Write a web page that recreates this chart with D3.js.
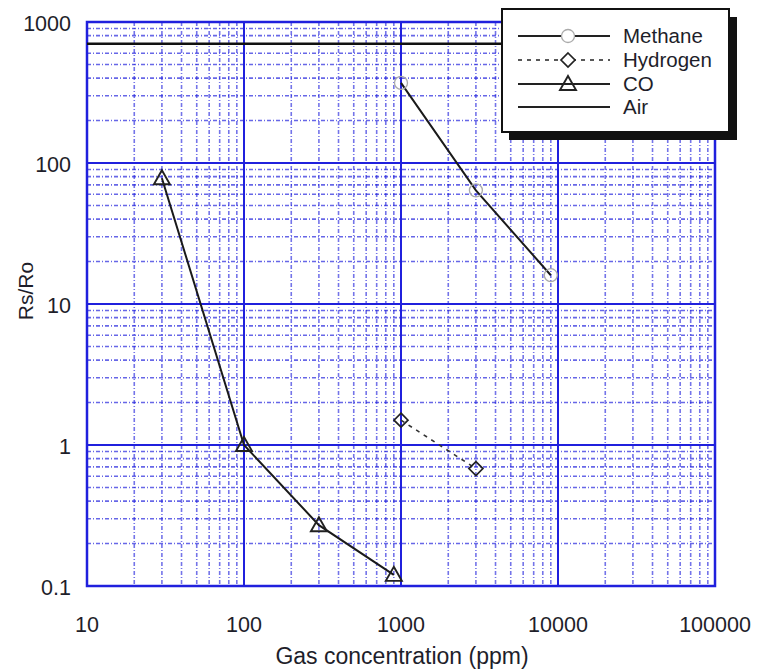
<!DOCTYPE html>
<html>
<head>
<meta charset="utf-8">
<script src="https://cdn.jsdelivr.net/npm/d3@7"></script>
<style>
  body { margin: 0; background: #fff; }
  text { font-family: "Liberation Sans", Arial, sans-serif; fill: #1e1e2a; }
</style>
</head>
<body>
<div id="chart"></div>
<script>
// values
const methane = [[1000, 370], [3000, 64], [9000, 16]]
const hydrogen = [[1000, 1.5], [3000, 0.68]]
const co = [[30, 78], [100, 1.0], [300, 0.27], [900, 0.12]]
const air = 700
const xTicks = [10, 100, 1000, 10000, 100000]
const yTicks = [0.1, 1, 10, 100, 1000]
const legendNames = ["Methane", "Hydrogen", "CO", "Air"]

const W = 757, H = 672
const m = { left: 87, right: 715, top: 22, bottom: 586 }

const svg = d3.select("#chart").append("svg")
  .attr("width", W).attr("height", H)

const x = d3.scaleLog().domain([10, 100000]).range([m.left, m.right])
const y = d3.scaleLog().domain([0.1, 1000]).range([m.bottom, m.top])

const blue = "#2020dd"

// minor grid: 2..9 in every decade
var minorX = [], minorY = []
for (let d = 10; d < 100000; d *= 10) for (let k = 2; k < 10; k++) minorX.push(d * k)
for (let d = 0.1; d < 1000; d *= 10) for (let k = 2; k < 10; k++) minorY.push(+(d * k).toPrecision(3))

var grid = svg.append("g")
grid.selectAll(".mx").data(minorX).enter().append("line")
  .attr("x1", d => x(d)).attr("x2", d => x(d))
  .attr("y1", m.top).attr("y2", m.bottom)
  .attr("stroke", blue).attr("stroke-width", 1.6)
  .attr("stroke-dasharray", "4,2,1,2").attr("opacity", 0.62)
grid.selectAll(".my").data(minorY).enter().append("line")
  .attr("y1", d => y(d)).attr("y2", d => y(d))
  .attr("x1", m.left).attr("x2", m.right)
  .attr("stroke", blue).attr("stroke-width", 1.6)
  .attr("stroke-dasharray", "4,2,1,2").attr("opacity", 0.68)

// major grid
grid.selectAll(".Mx").data(xTicks).enter().append("line")
  .attr("x1", d => x(d)).attr("x2", d => x(d))
  .attr("y1", m.top).attr("y2", m.bottom)
  .attr("stroke", blue).attr("stroke-width", 2)
grid.selectAll(".My").data(yTicks).enter().append("line")
  .attr("y1", d => y(d)).attr("y2", d => y(d))
  .attr("x1", m.left).attr("x2", m.right)
  .attr("stroke", blue).attr("stroke-width", 2)

svg.append("rect")
  .attr("x", m.left).attr("y", m.top)
  .attr("width", m.right - m.left).attr("height", m.bottom - m.top)
  .attr("fill", "none").attr("stroke", blue).attr("stroke-width", 2.5)

// tick labels
svg.append("g").selectAll("text").data(xTicks).enter().append("text")
  .attr("x", d => x(d)).attr("y", 632)
  .attr("text-anchor", "middle").attr("font-size", 21.5)
  .text(d => d)
svg.append("g").selectAll("text").data(yTicks).enter().append("text")
  .attr("x", 71).attr("y", d => y(d) + 9)
  .attr("text-anchor", "end").attr("font-size", 21.5)
  .text(d => d)

svg.append("text").attr("x", 402).attr("y", 664)
  .attr("text-anchor", "middle").attr("font-size", 23)
  .text("Gas concentration (ppm)")
svg.append("text")
  .attr("transform", "translate(33,291) rotate(-90)")
  .attr("text-anchor", "middle").attr("font-size", 21)
  .text("Rs/Ro")

// series
const line = d3.line().x(d => x(d[0])).y(d => y(d[1]))

svg.append("line")
  .attr("x1", x(10)).attr("x2", x(100000))
  .attr("y1", y(air)).attr("y2", y(air))
  .attr("stroke", "#111").attr("stroke-width", 2.5)

svg.append("path").datum(methane).attr("d", line)
  .attr("fill", "none").attr("stroke", "#1a1a1a").attr("stroke-width", 2)
svg.append("path").datum(hydrogen).attr("d", line)
  .attr("fill", "none").attr("stroke", "#333").attr("stroke-width", 1.6)
  .attr("stroke-dasharray", "4,5")
svg.append("path").datum(co).attr("d", line)
  .attr("fill", "none").attr("stroke", "#1a1a1a").attr("stroke-width", 2)

function circle(g, cx, cy) {
  g.append("circle").attr("cx", cx).attr("cy", cy).attr("r", 6.5)
    .attr("fill", "none").attr("stroke", "#aaa").attr("stroke-width", 1.3)
}
function diamond(g, cx, cy) {
  g.append("path").attr("d", `M${cx},${cy - 7}L${cx + 7},${cy}L${cx},${cy + 7}L${cx - 7},${cy}Z`)
    .attr("fill", "none").attr("stroke", "#222").attr("stroke-width", 1.7)
}
function triangle(g, cx, cy) {
  g.append("path").attr("d", `M${cx},${cy - 8}L${cx + 8},${cy + 6}L${cx - 8},${cy + 6}Z`)
    .attr("fill", "none").attr("stroke", "#222").attr("stroke-width", 1.9)
}

var marks = svg.append("g")
methane.forEach(d => circle(marks, x(d[0]), y(d[1])))
hydrogen.forEach(d => diamond(marks, x(d[0]), y(d[1])))
co.forEach(d => triangle(marks, x(d[0]), y(d[1])))

// legend
var lg = svg.append("g")
lg.append("rect").attr("x", 509).attr("y", 17).attr("width", 228).attr("height", 123).attr("fill", "#111")
lg.append("rect").attr("x", 502).attr("y", 9).attr("width", 227).attr("height", 123)
  .attr("fill", "#fff").attr("stroke", "#111").attr("stroke-width", 2)

const rowY = [36, 60, 84, 107]
legendNames.forEach((name, i) => {
  var ly = rowY[i]
  var ln = lg.append("line").attr("x1", 518).attr("x2", 610).attr("y1", ly).attr("y2", ly)
    .attr("stroke", "#222").attr("stroke-width", i == 1 ? 1.6 : 2)
  if (i == 1) ln.attr("stroke-dasharray", "4,5")
  if (i == 0) {
    lg.append("circle").attr("cx", 568).attr("cy", ly).attr("r", 6.5)
      .attr("fill", "#fff").attr("stroke", "#aaa").attr("stroke-width", 1.3)
  }
  if (i == 1) {
    lg.append("rect").attr("x", 561).attr("y", ly - 7).attr("width", 14).attr("height", 14).attr("fill", "#fff")
    diamond(lg, 568, ly)
  }
  if (i == 2) triangle(lg, 568, ly)
  lg.append("text").attr("x", 623).attr("y", ly + 7).attr("font-size", 20.5).text(name)
})
</script>
</body>
</html>
